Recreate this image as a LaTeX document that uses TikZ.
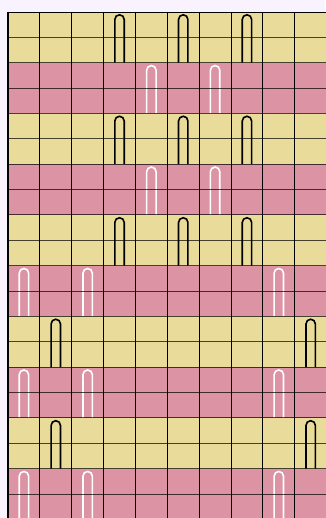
\documentclass[tikz,border=0pt]{standalone}
\usepackage{xcolor}
\usepackage{tikz}

\definecolor{paper}{RGB}{249,242,255}
\definecolor{bandyellow}{RGB}{233,219,153}
\definecolor{bandpink}{RGB}{220,147,163}

\begin{document}
\begin{tikzpicture}[
    x=1pt, y=1pt,
    % --- Band styles ---
    band/.style={fill=#1, draw=none},
    % --- Grid line styles ---
    colline/.style={draw=black, line width=0.9pt},
    rowline/.style={draw=black, draw opacity=0.7, line width=1pt},
    edgeline/.style={draw=black, line width=#1},
    % --- Loop styles ---
    loopline/.style={draw=#1, line width=1.6pt},
]

\def\cw{31.86}   % column width
\def\rh{25.37}   % row height
\def\rr{4.7}     % loop radius

% =============================================
%  Page
% =============================================
\useasboundingbox (0,0) rectangle (325,-518);
\fill[paper] (0,0) rectangle (325,-518);

% =============================================
%  Bands (two rows each)
% =============================================
\foreach \b in {0,...,9} {
    \pgfmathsetmacro\ytop{-(12+2*\b*\rh)}
    \pgfmathsetmacro\ybot{-(12+(2*\b+2)*\rh)}
    \pgfmathparse{mod(\b,2)==0 ? "bandyellow" : "bandpink"}
    \edef\bcol{\pgfmathresult}
    \fill[band=\bcol] (8,\ytop) rectangle (330,\ybot);
}

% =============================================
%  Loops
% =============================================
% band / column list / colour
\foreach \b/\cols/\lc in {0/{4,6,8}/black, 1/{5,7}/white,
                          2/{4,6,8}/black, 3/{5,7}/white,
                          4/{4,6,8}/black, 5/{1,3,9}/white,
                          6/{2,10}/black,  7/{1,3,9}/white,
                          8/{2,10}/black,  9/{1,3,9}/white} {
    \pgfmathsetmacro\ytop{-(12+2*\b*\rh)}
    \pgfmathsetmacro\ybot{-(12+(2*\b+2)*\rh)}
    \foreach \c in \cols {
        \pgfmathsetmacro\cx{8+(\c-0.5)*\cw}
        \draw[loopline=\lc]
            (\cx-\rr,\ybot) -- (\cx-\rr,\ytop-2.8-\rr)
            arc[start angle=180, end angle=0, radius=\rr]
            -- (\cx+\rr,\ybot);
    }
}

% =============================================
%  Grid
% =============================================
\foreach \k in {1,...,10}
    \draw[colline] (8+\k*\cw,-12) -- (8+\k*\cw,-520);
\foreach \j in {1,...,19}
    \draw[rowline] (8,-12-\j*\rh) -- (330,-12-\j*\rh);

% Outer edges
\draw[edgeline=0.9pt] (8,-12) -- (330,-12);
\draw[edgeline=2pt] (8,-11.55) -- (8,-520);

\end{tikzpicture}
\end{document}
